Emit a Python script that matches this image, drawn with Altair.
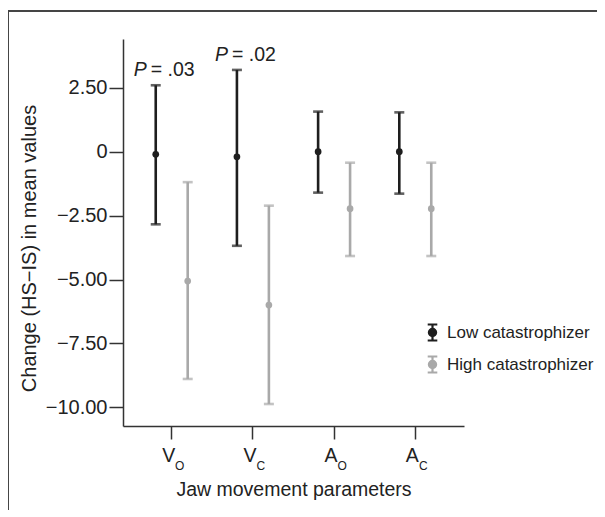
import altair as alt
import pandas as pd

# ---- data ----
params = ["V_O", "V_C", "A_O", "A_C"]
letters = ["V", "V", "A", "A"]
subs = ["O", "C", "O", "C"]
groups = ["Low catastrophizer", "High catastrophizer"]

low_mean = [-0.10, -0.20, 0.00, 0.00]
low_lo = [-2.84, -3.68, -1.60, -1.64]
low_hi = [2.60, 3.20, 1.57, 1.54]

high_mean = [-5.06, -6.00, -2.23, -2.23]
high_lo = [-8.89, -9.87, -4.08, -4.08]
high_hi = [-1.19, -2.11, -0.43, -0.43]

ann_params = ["V_O", "V_C"]
ann_p = ["P", "P"]
ann_text = ["= .03", "= .02"]
ann_y = [2.60, 3.20]

y_ticks = [2.5, 0, -2.5, -5, -7.5, -10]

rows = []
for i, p in enumerate(params):
    rows.append(dict(param=p, group=groups[0], mean=low_mean[i], lo=low_lo[i], hi=low_hi[i]))
    rows.append(dict(param=p, group=groups[1], mean=high_mean[i], lo=high_lo[i], hi=high_hi[i]))
df = pd.DataFrame(rows)
lab = pd.DataFrame(dict(param=params, letter=letters, sub=subs))
ann = pd.DataFrame(dict(param=ann_params, p=ann_p, t=ann_text, y=ann_y))

W, H = 341, 387
FONT = "Liberation Sans"
BLACK = "#1e1e1e"
GRAY = "#a9a9a9"
TXT = "#222"

xscale = alt.Scale(domain=params, paddingInner=0, paddingOuter=0.1)
yscale = alt.Scale(domain=[-10.73, 4.41], nice=False, zero=False)
oscale = alt.Scale(domain=groups, paddingInner=0, paddingOuter=0.27)
cscale = alt.Scale(domain=groups, range=[BLACK, GRAY])

X = alt.X("param:N", scale=xscale, sort=params,
          axis=alt.Axis(labels=False, tickSize=13, tickWidth=1.5, tickColor="#333",
                        domainColor="#333", domainWidth=1.5,
                        title="Jaw movement parameters", titleFontSize=19.5,
                        titleFont=FONT, titleFontWeight="normal", titleColor=TXT,
                        titleY=69, titleBaseline="alphabetic", titleX=W / 2,
                        titleAlign="center"))
XO = alt.XOffset("group:N", scale=oscale, sort=groups)
COLOR = alt.Color("group:N", scale=cscale, sort=groups,
                  legend=alt.Legend(
                      title=None, orient="none", legendX=300, legendY=284,
                      symbolType="M-0.6,-1H0.6M0,-1V1M-0.6,1H0.6M0.45,0A0.45,0.45,0,1,1,-0.45,0A0.45,0.45,0,1,1,0.45,0",
                      symbolSize=256, symbolStrokeWidth=2.2, symbolOpacity=1,
                      labelFontSize=17, labelFont=FONT, labelColor=TXT,
                      labelOffset=5, rowPadding=7, padding=0, labelLimit=300))

base = alt.Chart(df)

rules = base.mark_rule(strokeWidth=2.6).encode(
    x=X, xOffset=XO,
    y=alt.Y("lo:Q", scale=yscale,
            axis=alt.Axis(values=y_ticks, grid=False, tickSize=14, tickWidth=1.5,
                          tickColor="#333", domainColor="#333", domainWidth=1.5,
                          labelFontSize=20, labelFont=FONT, labelColor=TXT,
                          labelPadding=2,
                          labelExpr="datum.value == 0 ? '0' : format(datum.value, '.2f')",
                          title="Change (HS\u2212IS) in mean values", titleFontSize=20,
                          titleFont=FONT, titleFontWeight="normal", titleColor=TXT,
                          titleAngle=270, titleX=-88, titleY=209, titleAlign="center",
                          titleBaseline="alphabetic")),
    y2="hi:Q",
    color=COLOR,
)
cap_lo = base.mark_tick(size=10, thickness=2.6).encode(
    x=X, xOffset=XO, y=alt.Y("lo:Q", scale=yscale), color=COLOR)
cap_hi = base.mark_tick(size=10, thickness=2.6).encode(
    x=X, xOffset=XO, y=alt.Y("hi:Q", scale=yscale), color=COLOR)
pts = base.mark_point(filled=True, size=45, opacity=1).encode(
    x=X, xOffset=XO, y=alt.Y("mean:Q", scale=yscale), color=COLOR)

lab_main = alt.Chart(lab).mark_text(fontSize=19.5, font=FONT, color=TXT, dx=-3,
                                    align="center", baseline="alphabetic").encode(
    x=alt.X("param:N", scale=xscale, sort=params), y=alt.value(H + 35.5), text="letter:N")
lab_sub = alt.Chart(lab).mark_text(fontSize=12, font=FONT, color=TXT, dx=8,
                                   align="center", baseline="alphabetic").encode(
    x=alt.X("param:N", scale=xscale, sort=params), y=alt.value(H + 44), text="sub:N")

ann_p_m = alt.Chart(ann).mark_text(fontSize=19.5, font=FONT, fontStyle="italic", color=TXT,
                                   dx=-38, dy=-9, align="left", baseline="alphabetic").encode(
    x=alt.X("param:N", scale=xscale, sort=params), y=alt.Y("y:Q", scale=yscale), text="p:N")
ann_t_m = alt.Chart(ann).mark_text(fontSize=19.5, font=FONT, color=TXT,
                                   dx=-21, dy=-9, align="left", baseline="alphabetic").encode(
    x=alt.X("param:N", scale=xscale, sort=params), y=alt.Y("y:Q", scale=yscale), text="t:N")

frame_top = alt.Chart(lab).mark_rule(color="#444", strokeWidth=1.5).encode(
    x=alt.value(-115), x2=alt.value(W + 133), y=alt.value(-28))
frame_left = alt.Chart(lab).mark_rule(color="#444", strokeWidth=1.5).encode(
    x=alt.value(-115), y=alt.value(-28), y2=alt.value(H + 90))

chart = alt.layer(
    frame_top, frame_left, rules, cap_lo, cap_hi, pts, lab_main, lab_sub, ann_p_m, ann_t_m
).properties(
    width=W, height=H,
    background="white",
    autosize=alt.AutoSizeParams(type="none"),
    padding={"left": 115, "top": 31, "right": 133, "bottom": 84},
).configure_view(stroke=None)

chart.save("out.html", embed_options={"renderer": "svg", "actions": False})
